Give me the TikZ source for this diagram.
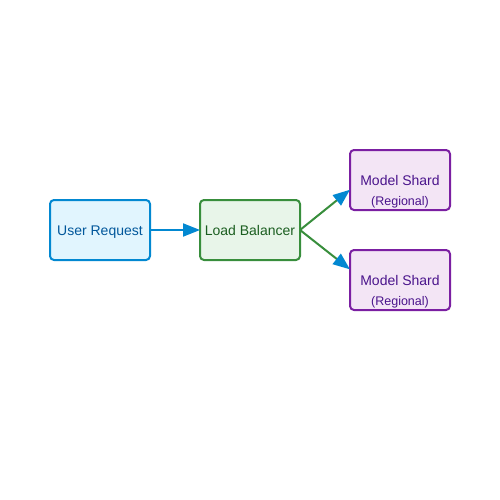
\documentclass[tikz,border=0pt]{standalone}
\usepackage{fontspec}
\setmainfont{Liberation Sans}
\usetikzlibrary{arrows.meta,positioning}
\definecolor{ublue}{HTML}{0288D1}
\definecolor{ubluefill}{HTML}{E1F5FE}
\definecolor{ubluetext}{HTML}{01579B}
\definecolor{lbgreen}{HTML}{388E3C}
\definecolor{lbgreenfill}{HTML}{E8F5E9}
\definecolor{lbgreentext}{HTML}{1B5E20}
\definecolor{shpurple}{HTML}{7B1FA2}
\definecolor{shpurplefill}{HTML}{F3E5F5}
\definecolor{shpurpletext}{HTML}{4A148C}
\tikzset{
  box/.style={draw, line width=2pt, rounded corners=4pt, minimum width=100pt,
    minimum height=60pt, inner sep=0pt, outer sep=0pt, text height=12pt, text depth=2pt,
    font=\fontsize{14pt}{16pt}\selectfont},
  userbox/.style={box, draw=ublue, fill=ubluefill, text=ubluetext},
  lbbox/.style={box, draw=lbgreen, fill=lbgreenfill, text=lbgreentext},
  shardbox/.style={box, draw=shpurple, fill=shpurplefill, text=shpurpletext},
  subtext/.style={text=shpurpletext, font=\fontsize{12.5pt}{14pt}\selectfont, inner sep=0pt,
    text height=10pt, text depth=2pt},
  flow/.style={line width=2pt, -{Triangle[length=17pt,width=13pt,color=ublue]}}
}
\begin{document}
\begin{tikzpicture}[x=1pt,y=1pt]
  \useasboundingbox (0,0) rectangle (500,-500);
  \node[userbox] (user) at (100,-230) {User Request};
  \node[lbbox, right=50pt of user] (lb) {Load Balancer};
  \node[shardbox] (shardA) at (400,-180) {Model Shard};
  \node[shardbox] (shardB) at (400,-280) {Model Shard};
  \node[subtext] (regA) at ([yshift=-21pt]shardA.center) {(Regional)};
  \node[subtext] (regB) at ([yshift=-21pt]shardB.center) {(Regional)};
  % connections
  \draw[flow, ublue] (user) -- (lb);
  \draw[flow, lbgreen] (lb.east) -- (shardA.191.3);
  \draw[flow, lbgreen] (lb.east) -- (shardB.168.7);
\end{tikzpicture}
\end{document}
